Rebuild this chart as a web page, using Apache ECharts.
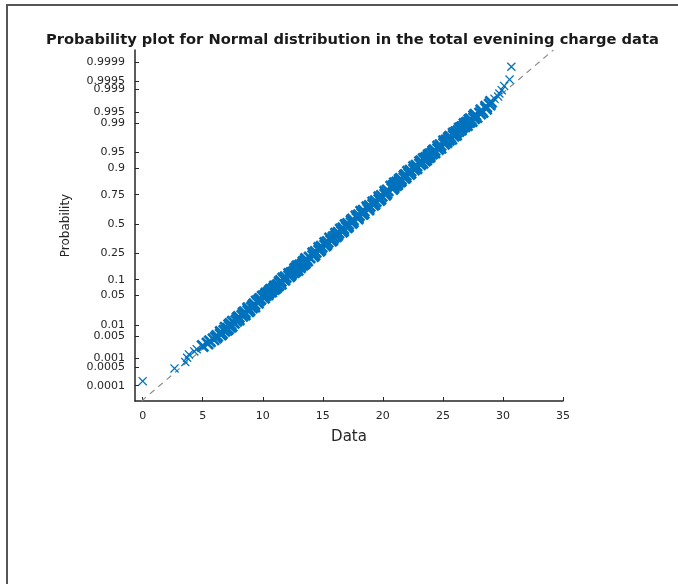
<!DOCTYPE html>
<html>
<head>
<meta charset="utf-8">
<script src="https://cdn.jsdelivr.net/npm/echarts@6/dist/echarts.min.js"></script>
<style>
html,body{margin:0;padding:0;background:#fff;}
#chart{width:678px;height:584px;}
</style>
</head>
<body>
<div id="chart"></div>
<script>
// ---- data ----
var titleText = 'Probability plot for Normal distribution in the total evenining charge data';
var xTicks = [0, 5, 10, 15, 20, 25, 30, 35];
var probTicks = [0.0001, 0.0005, 0.001, 0.005, 0.01, 0.05, 0.1, 0.25, 0.5, 0.75, 0.9, 0.95, 0.99, 0.995, 0.999, 0.9995, 0.9999];
var probTickLabels = ['0.0001', '0.0005', '0.001', '0.005', '0.01', '0.05', '0.1', '0.25', '0.5', '0.75', '0.9', '0.95', '0.99', '0.995', '0.999', '0.9995', '0.9999'];
// reference (fitted) line parameters
var lineMu = 17.2;
var lineSigma = 4.25;
// observed charge values (x) and their plotting probabilities (p)
var chargeValues = [
  0.0, 2.65, 3.55, 3.7, 3.85, 4.3, 4.5, 5.0, 5.4, 5.6, 5.9, 6.1, 6.2, 6.6, 6.8, 7.1, 7.3, 7.2,
  7.6, 7.8, 7.9, 8.3, 8.4, 8.8, 8.8, 9.1, 9.2, 9.6, 9.7, 10.1, 10.2, 10.3, 10.7, 10.7, 11.0, 11.0,
  11.3, 11.4, 11.8, 11.9, 12.3, 12.4, 12.7, 12.7, 13.1, 13.1, 13.4, 13.4,
  13.7, 13.6, 13.9, 14.2, 14.3, 14.2, 14.4, 14.7, 14.8, 14.7,
  14.9, 15.2, 15.3, 15.2, 15.4, 15.7, 15.8, 15.6, 15.9, 16.1,
  16.2, 16.1, 16.3, 16.6, 16.7, 16.5, 16.7, 17.0, 17.1, 16.9,
  17.1, 17.4, 17.5, 17.4, 17.5, 17.9, 17.9, 17.8, 18.0, 18.3,
  18.4, 18.2, 18.4, 18.8, 18.8, 18.7, 18.9, 19.2, 19.3, 19.2,
  19.4, 19.7, 19.8, 19.7, 19.9, 20.2, 20.3, 20.2, 20.4, 20.8, 20.9,
  20.9, 21.2, 21.2, 21.5, 21.5, 21.9, 21.9, 22.3, 22.3, 22.8, 22.8, 23.3, 23.2, 23.6, 23.6, 23.9, 23.9,
  24.3, 24.3, 24.8, 24.8, 25.3, 25.3, 25.7, 25.6, 26.1, 26.1, 26.5, 26.6, 27.0, 27.0, 27.4, 27.3,
  27.8, 27.7, 28.3, 28.2, 28.6, 28.6, 28.9, 29.0, 29.3, 29.6, 29.7, 29.9, 30.1, 30.55, 30.7
];
var chargeProbs = [
  0.00015, 0.00045, 0.00075, 0.00105, 0.00135, 0.0017, 0.002, 0.0025, 0.003, 0.0035, 0.004, 0.0045, 0.005, 0.006, 0.007, 0.008, 0.009, 0.01,
  0.0115, 0.013, 0.015, 0.0175, 0.02, 0.0225, 0.025, 0.0275, 0.03, 0.035, 0.04, 0.045, 0.05, 0.055, 0.06, 0.065, 0.07, 0.075,
  0.08, 0.09, 0.10, 0.11, 0.12, 0.13, 0.14, 0.15, 0.16, 0.17, 0.18, 0.19,
  0.20, 0.21, 0.22, 0.23, 0.24, 0.25, 0.26, 0.27, 0.28, 0.29,
  0.30, 0.31, 0.32, 0.33, 0.34, 0.35, 0.36, 0.37, 0.38, 0.39,
  0.40, 0.41, 0.42, 0.43, 0.44, 0.45, 0.46, 0.47, 0.48, 0.49,
  0.50, 0.51, 0.52, 0.53, 0.54, 0.55, 0.56, 0.57, 0.58, 0.59,
  0.60, 0.61, 0.62, 0.63, 0.64, 0.65, 0.66, 0.67, 0.68, 0.69,
  0.70, 0.71, 0.72, 0.73, 0.74, 0.75, 0.76, 0.77, 0.78, 0.79, 0.80,
  0.81, 0.82, 0.83, 0.84, 0.85, 0.86, 0.87, 0.88, 0.89, 0.90, 0.91, 0.92, 0.925, 0.93, 0.935, 0.94, 0.945,
  0.95, 0.955, 0.96, 0.965, 0.97, 0.9725, 0.975, 0.9775, 0.98, 0.9825, 0.985, 0.987, 0.9885, 0.99, 0.991, 0.992,
  0.993, 0.994, 0.995, 0.9955, 0.996, 0.9965, 0.997, 0.9975, 0.998, 0.9983, 0.99865, 0.99895, 0.99925, 0.99955, 0.99985
];
// further observations in the denser shoulders of the band
var shoulderValues = [
  6.5, 6.5, 7.0, 6.9, 7.4, 7.3, 7.5, 8.0, 8.0, 8.5, 8.5, 8.9, 8.8, 9.3, 9.3, 9.5, 9.8, 10.0,
  10.4, 10.5, 10.6, 10.9, 11.1, 11.2, 11.5, 11.5, 11.7, 12.2, 12.2, 12.6, 12.9, 12.8, 12.9, 13.3, 13.5, 13.5,
  20.7, 21.1, 21.0, 21.4, 21.4, 21.8, 21.8, 22.2, 22.1, 22.6, 22.6, 23.1, 23.1, 23.5, 23.4, 23.8, 23.8, 24.1,
  24.2, 24.6, 24.6, 25.1, 25.1, 25.5, 25.5, 25.9, 25.9, 26.3, 26.4, 26.8, 26.8, 27.2, 27.2, 27.6, 27.6, 28.1
];
var shoulderProbs = [
  0.0055, 0.0065, 0.0075, 0.0085, 0.0095, 0.01075, 0.01225, 0.014, 0.01625, 0.01875, 0.02125, 0.02375, 0.02625, 0.02875, 0.0325, 0.0375, 0.0425, 0.0475,
  0.0525, 0.0575, 0.0625, 0.0675, 0.0725, 0.0775, 0.085, 0.095, 0.105, 0.115, 0.125, 0.135, 0.145, 0.155, 0.165, 0.175, 0.185, 0.195,
  0.805, 0.815, 0.825, 0.835, 0.845, 0.855, 0.865, 0.875, 0.885, 0.895, 0.905, 0.915, 0.9225, 0.9275, 0.9325, 0.9375, 0.9425, 0.9475,
  0.9525, 0.9575, 0.9625, 0.9675, 0.97125, 0.97375, 0.97625, 0.97875, 0.98125, 0.98375, 0.986, 0.98775, 0.98925, 0.9905, 0.9915, 0.9925, 0.9935, 0.9945
];

// ---- normal probability scale (inverse normal CDF, Acklam) ----
function norminv(p) {
  var a = [-3.969683028665376e+01, 2.209460984245205e+02, -2.759285104469687e+02, 1.383577518672690e+02, -3.066479806614716e+01, 2.506628277459239e+00];
  var b = [-5.447609879822406e+01, 1.615858368580409e+02, -1.556989798598866e+02, 6.680131188771972e+01, -1.328068155288572e+01];
  var c = [-7.784894002430293e-03, -3.223964580411365e-01, -2.400758277161838e+00, -2.549732539343734e+00, 4.374664141464968e+00, 2.938163982698783e+00];
  var d = [7.784695709041462e-03, 3.224671290700398e-01, 2.445134137142996e+00, 3.754408661907416e+00];
  var pl = 0.02425, q, r;
  if (p < pl) {
    q = Math.sqrt(-2 * Math.log(p));
    return (((((c[0]*q+c[1])*q+c[2])*q+c[3])*q+c[4])*q+c[5]) / ((((d[0]*q+d[1])*q+d[2])*q+d[3])*q+1);
  } else if (p <= 1 - pl) {
    q = p - 0.5; r = q*q;
    return (((((a[0]*r+a[1])*r+a[2])*r+a[3])*r+a[4])*r+a[5])*q / (((((b[0]*r+b[1])*r+b[2])*r+b[3])*r+b[4])*r+1);
  } else {
    q = Math.sqrt(-2 * Math.log(1 - p));
    return -(((((c[0]*q+c[1])*q+c[2])*q+c[3])*q+c[4])*q+c[5]) / ((((d[0]*q+d[1])*q+d[2])*q+d[3])*q+1);
  }
}

var zTicks = probTicks.map(norminv);
var yMin = -4.07, yMax = 4.0;
var allValues = chargeValues.concat(shoulderValues);
var allProbs = chargeProbs.concat(shoulderProbs);
var pointData = allValues.map(function (v, i) { return [v, norminv(allProbs[i])]; });
// sparse tail observations are drawn with a lighter marker than the dense band
var isTail = function (p) { return p < 0.0022 || p > 0.9978; };
var tailData = pointData.filter(function (d, i) { return isTail(allProbs[i]); });
var bandData = pointData.filter(function (d, i) { return !isTail(allProbs[i]); });
var refLine = [[lineMu + lineSigma * yMin, yMin], [lineMu + lineSigma * yMax, yMax]];

var xSymThin = 'path://M0,1L1,0L5,4L9,0L10,1L6,5L10,9L9,10L5,6L1,10L0,9L4,5Z';
var xSymBand = 'path://M0,1.5L1.5,0L5,3.5L8.5,0L10,1.5L6.5,5L10,8.5L8.5,10L5,6.5L1.5,10L0,8.5L3.5,5Z';

var chart = echarts.init(document.getElementById('chart'), null, {renderer: 'canvas'});
chart.setOption({
  animation: false,
  backgroundColor: '#ffffff',
  title: {
    text: titleText,
    left: 41,
    top: 28,
    textStyle: {fontFamily: 'DejaVu Sans', fontWeight: 'bold', fontSize: 14.7, color: '#1a1a1a'}
  },
  graphic: [
    {type: 'line', shape: {x1: 6, y1: 5, x2: 678, y2: 5}, style: {stroke: '#555', lineWidth: 2}},
    {type: 'line', shape: {x1: 7, y1: 5, x2: 7, y2: 584}, style: {stroke: '#555', lineWidth: 2}}
  ],
  grid: {left: 135, top: 50, width: 428, height: 351, containLabel: false},
  xAxis: {
    type: 'value', min: -0.64, max: 35,
    name: 'Data', nameLocation: 'middle', nameGap: 29,
    nameTextStyle: {fontFamily: 'DejaVu Sans', fontSize: 15, color: '#262626'},
    axisLine: {onZero: false, lineStyle: {color: '#262626', width: 1.5}},
    axisTick: {inside: true, length: 4, customValues: xTicks, lineStyle: {color: '#262626'}},
    axisLabel: {customValues: xTicks, fontFamily: 'DejaVu Sans', fontSize: 11, color: '#262626', margin: 10},
    splitLine: {show: false}
  },
  yAxis: {
    type: 'value', min: yMin, max: yMax,
    name: 'Probability', nameLocation: 'middle', nameGap: 63, nameRotate: 90,
    nameTextStyle: {fontFamily: 'DejaVu Sans', fontSize: 12, color: '#262626'},
    axisLine: {show: true, onZero: false, lineStyle: {color: '#262626', width: 1.5}},
    axisTick: {show: true, inside: true, length: 4, customValues: zTicks, lineStyle: {color: '#262626'}},
    axisLabel: {
      customValues: zTicks, fontFamily: 'DejaVu Sans', fontSize: 11, color: '#262626', margin: 10,
      formatter: function (v) {
        for (var i = 0; i < zTicks.length; i++) { if (Math.abs(zTicks[i] - v) < 1e-6) return probTickLabels[i]; }
        return '';
      }
    },
    splitLine: {show: false}
  },
  series: [
    {
      type: 'line', data: refLine, symbol: 'none', silent: true, z: 1,
      lineStyle: {color: '#8c8c8c', width: 1.2, type: [6, 5]}
    },
    {
      type: 'scatter', data: bandData, symbol: xSymBand, symbolSize: 13, z: 2,
      itemStyle: {color: '#0072BD', opacity: 1}
    },
    {
      type: 'scatter', data: tailData, symbol: xSymThin, symbolSize: 9, z: 2,
      itemStyle: {color: '#0072BD', opacity: 1}
    }
  ]
});
</script>
</body>
</html>
